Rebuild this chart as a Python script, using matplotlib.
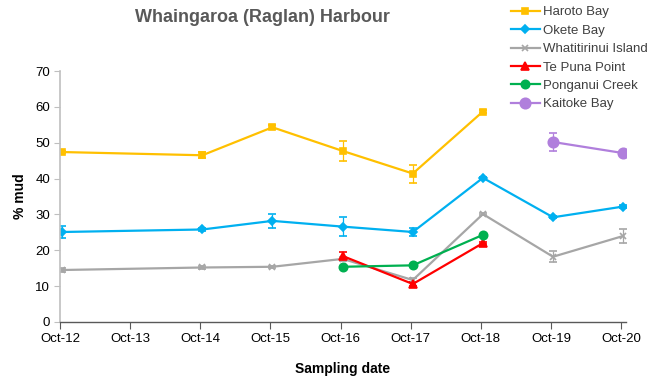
import matplotlib
matplotlib.use("Agg")
import matplotlib.pyplot as plt
import matplotlib.dates as mdates
from matplotlib.lines import Line2D
import numpy as np
from datetime import datetime

plt.rcParams['font.family'] = ['Liberation Sans', 'DejaVu Sans']

years_all = [2012, 2013, 2014, 2015, 2016, 2017, 2018, 2019, 2020]

haroto_years = [2012, 2014, 2015, 2016, 2017, 2018]
haroto = [47.4, 46.5, 54.3, 47.7, 41.4, 58.7]
haroto_err = [0.4, 0.8, 0.6, 2.8, 2.5, 0.3]

okete_years = [2012, 2014, 2015, 2016, 2017, 2018, 2019, 2020]
okete = [25.1, 25.8, 28.2, 26.6, 25.1, 40.2, 29.2, 32.2]
okete_err = [1.8, 0.4, 2.0, 2.6, 1.0, 0.3, 0.3, 0.3]

what_years = [2012, 2014, 2015, 2016, 2017, 2018, 2019, 2020]
what = [14.5, 15.2, 15.4, 17.6, 11.7, 30.1, 18.2, 24.0]
what_err = [0.5, 0.3, 0.3, 0.5, 0.5, 0.3, 1.6, 2.0]

tepuna_years = [2016, 2017, 2018]
tepuna = [18.4, 10.6, 22.0]
tepuna_err = [1.2, 0.5, 0.3]

pong_years = [2016, 2017, 2018]
pong = [15.4, 15.8, 24.3]
pong_err = [0.3, 0.3, 0.3]

kait_years = [2019, 2020]
kait = [50.2, 47.1]
kait_err = [2.6, 0.3]

def dates(ys):
    return [datetime(y, 10, 12) for y in ys]

fig = plt.figure(figsize=(6.58, 3.76), dpi=100)
ax = fig.add_axes([60/658, 1-322/376, (626-60)/658, (322-71)/376])

series = [
    ("Haroto Bay", haroto_years, haroto, haroto_err, "#FFC000", "s", 5),
    ("Okete Bay", okete_years, okete, okete_err, "#00B0F0", "D", 4.5),
    ("Whatitirinui Island", what_years, what, what_err, "#A6A6A6", "x", 5),
    ("Te Puna Point", tepuna_years, tepuna, tepuna_err, "#FF0000", "^", 6),
    ("Ponganui Creek", pong_years, pong, pong_err, "#00B050", "o", 6),
    ("Kaitoke Bay", kait_years, kait, kait_err, "#B07FDC", "o", 7.5),
]
handles = []
for name, ys, vals, errs, col, mk, ms in series:
    ax.errorbar(dates(ys), vals, yerr=errs, color=col, marker=mk, markersize=ms,
                linewidth=1.6, elinewidth=0.9, capsize=3, capthick=0.9,
                markeredgewidth=1.2)
    handles.append(Line2D([], [], color=col, marker=mk, markersize=ms,
                          linewidth=1.6, markeredgewidth=1.2, label=name))

ax.set_ylim(0, 70)
ax.set_yticks(np.arange(0, 71, 10))
ax.set_xlim(datetime(2012, 10, 1), datetime(2020, 10, 26))
ax.set_xticks([datetime(y, 10, 1) for y in years_all])
ax.xaxis.set_major_formatter(mdates.DateFormatter('%b-%y'))

for s in ['top', 'right']:
    ax.spines[s].set_visible(False)
ax.spines['left'].set_color('#BFBFBF')
ax.spines['left'].set_linewidth(1.2)
ax.spines['bottom'].set_color('#595959')
ax.spines['bottom'].set_linewidth(1.0)
ax.tick_params(axis='y', length=4, color='#BFBFBF', labelsize=9.5, pad=3)
ax.tick_params(axis='x', length=5, color='#595959', labelsize=9.5, pad=3)

ax.set_ylabel('% mud', fontsize=10, fontweight='bold', labelpad=6)
ax.set_xlabel('Sampling date', fontsize=10, fontweight='bold', labelpad=12)

fig.text(262/658, 1-18/376, 'Whaingaroa (Raglan) Harbour', ha='center', va='center',
         fontsize=13, fontweight='bold', color='#595959')

leg = fig.legend(handles=handles, loc='upper left', bbox_to_anchor=(503/658, 1.005),
                 frameon=False, fontsize=9.5, handlelength=2.2, handletextpad=0.2,
                 labelspacing=0.47, borderpad=0.1, labelcolor='#404040')

fig.savefig('out.png', dpi=100)
